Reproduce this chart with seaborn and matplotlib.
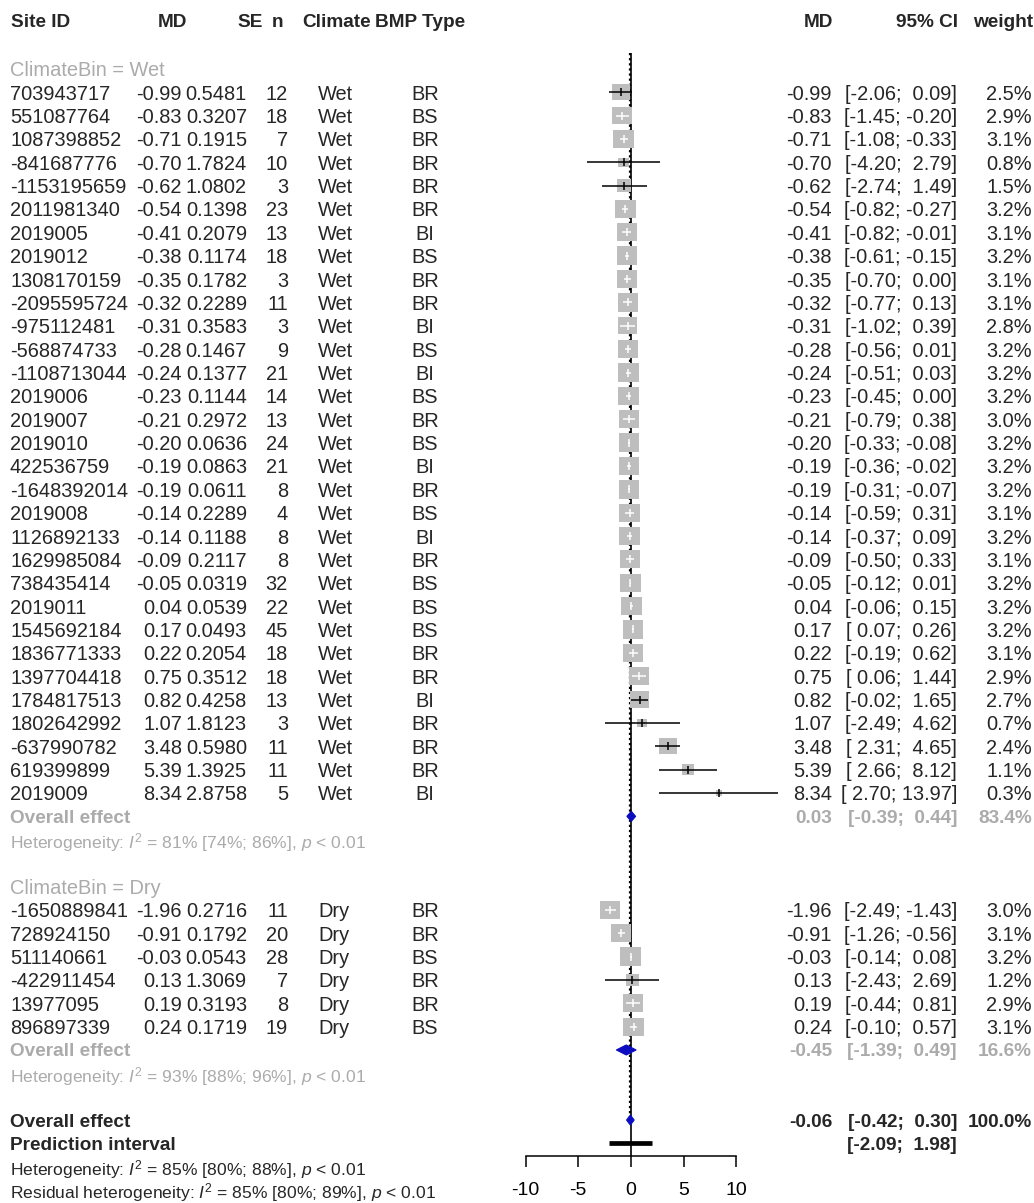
import matplotlib
matplotlib.use("Agg")
import matplotlib.pyplot as plt
import numpy as np
import pandas as pd
import seaborn as sns
from matplotlib.path import Path
from matplotlib.transforms import blended_transform_factory

# ---------------- study data ----------------
wet_site = ["703943717", "551087764", "1087398852", "-841687776", "-1153195659",
            "2011981340", "2019005", "2019012", "1308170159", "-2095595724",
            "-975112481", "-568874733", "-1108713044", "2019006", "2019007",
            "2019010", "422536759", "-1648392014", "2019008", "1126892133",
            "1629985084", "738435414", "2019011", "1545692184", "1836771333",
            "1397704418", "1784817513", "1802642992", "-637990782", "619399899",
            "2019009"]
wet_md = [-0.99, -0.83, -0.71, -0.70, -0.62, -0.54, -0.41, -0.38, -0.35, -0.32,
          -0.31, -0.28, -0.24, -0.23, -0.21, -0.20, -0.19, -0.19, -0.14, -0.14,
          -0.09, -0.05, 0.04, 0.17, 0.22, 0.75, 0.82, 1.07, 3.48, 5.39, 8.34]
wet_se = [0.5481, 0.3207, 0.1915, 1.7824, 1.0802, 0.1398, 0.2079, 0.1174, 0.1782,
          0.2289, 0.3583, 0.1467, 0.1377, 0.1144, 0.2972, 0.0636, 0.0863, 0.0611,
          0.2289, 0.1188, 0.2117, 0.0319, 0.0539, 0.0493, 0.2054, 0.3512, 0.4258,
          1.8123, 0.5980, 1.3925, 2.8758]
wet_n = [12, 18, 7, 10, 3, 23, 13, 18, 3, 11, 3, 9, 21, 14, 13, 24, 21, 8, 4, 8,
         8, 32, 22, 45, 18, 18, 13, 3, 11, 11, 5]
wet_bmp = ["BR", "BS", "BR", "BR", "BR", "BR", "BI", "BS", "BR", "BR", "BI", "BS",
           "BI", "BS", "BR", "BS", "BI", "BR", "BS", "BI", "BR", "BS", "BS", "BS",
           "BR", "BR", "BI", "BR", "BR", "BR", "BI"]
wet_lo = [-2.06, -1.45, -1.08, -4.20, -2.74, -0.82, -0.82, -0.61, -0.70, -0.77,
          -1.02, -0.56, -0.51, -0.45, -0.79, -0.33, -0.36, -0.31, -0.59, -0.37,
          -0.50, -0.12, -0.06, 0.07, -0.19, 0.06, -0.02, -2.49, 2.31, 2.66, 2.70]
wet_hi = [0.09, -0.20, -0.33, 2.79, 1.49, -0.27, -0.01, -0.15, 0.00, 0.13,
          0.39, 0.01, 0.03, 0.00, 0.38, -0.08, -0.02, -0.07, 0.31, 0.09,
          0.33, 0.01, 0.15, 0.26, 0.62, 1.44, 1.65, 4.62, 4.65, 8.12, 13.97]
wet_w = [2.5, 2.9, 3.1, 0.8, 1.5, 3.2, 3.1, 3.2, 3.1, 3.1, 2.8, 3.2, 3.2, 3.2, 3.0,
         3.2, 3.2, 3.2, 3.1, 3.2, 3.1, 3.2, 3.2, 3.2, 3.1, 2.9, 2.7, 0.7, 2.4, 1.1,
         0.3]

dry_site = ["-1650889841", "728924150", "511140661", "-422911454", "13977095",
            "896897339"]
dry_md = [-1.96, -0.91, -0.03, 0.13, 0.19, 0.24]
dry_se = [0.2716, 0.1792, 0.0543, 1.3069, 0.3193, 0.1719]
dry_n = [11, 20, 28, 7, 8, 19]
dry_bmp = ["BR", "BR", "BS", "BR", "BR", "BS"]
dry_lo = [-2.49, -1.26, -0.14, -2.43, -0.44, -0.10]
dry_hi = [-1.43, -0.56, 0.08, 2.69, 0.81, 0.57]
dry_w = [3.0, 3.1, 3.2, 1.2, 2.9, 3.1]

# subgroup and overall pooled estimates
sub_names = ["Wet", "Dry"]
sub_md = [0.03, -0.45]
sub_lo = [-0.39, -1.39]
sub_hi = [0.44, 0.49]
sub_w = [83.4, 16.6]
sub_het = [r"Heterogeneity: $I^2$ = 81% [74%; 86%], $p$ < 0.01",
           r"Heterogeneity: $I^2$ = 93% [88%; 96%], $p$ < 0.01"]

overall_md = -0.06
overall_lo = -0.42
overall_hi = 0.30
overall_w = 100.0
pred_lo = -2.09
pred_hi = 1.98
overall_het = r"Heterogeneity: $I^2$ = 85% [80%; 88%], $p$ < 0.01"
resid_het = r"Residual heterogeneity: $I^2$ = 85% [80%; 89%], $p$ < 0.01"

x_ticks = [-10, -5, 0, 5, 10]

# ---------------- layout ----------------
W, H = 1034, 1203
ROW0_PX, ROW_PX = 92.2, 23.36      # pixel position of first study row, row pitch
X0_PX, XPX = 631.0, 10.54          # pixel position of MD = 0, pixels per unit
BOX_W_MAX_PX = 20.5                # box width for the largest weight
BOX_ASPECT = 0.9                   # box height / width

GREY_TXT = "#ABABAB"
GREY_BOX = "#BEBEBE"
BLUE = "#0C0CC0"
FS = 14.4
FS_BOLD = 13.7
FS_HET = 12.6

wet_rows = list(range(0, len(wet_site)))
r_wet_label, r_wet_overall, r_wet_het = -1, 31, 32
r_dry_label = 34
dry_rows = list(range(35, 35 + len(dry_site)))
r_dry_overall, r_dry_het = 41, 42
r_overall, r_pred, r_het, r_resid = 44, 45, 46, 47
r_header = -3.09


def px_to_row(py):
    return (py - ROW0_PX) / ROW_PX


studies = pd.DataFrame({
    "site": wet_site + dry_site,
    "md": wet_md + dry_md,
    "se": wet_se + dry_se,
    "n": wet_n + dry_n,
    "climate": ["Wet"] * len(wet_site) + ["Dry"] * len(dry_site),
    "bmp": wet_bmp + dry_bmp,
    "lo": wet_lo + dry_lo,
    "hi": wet_hi + dry_hi,
    "weight": wet_w + dry_w,
    "row": wet_rows + dry_rows,
})
wmax = studies["weight"].max()
studies["box_w_px"] = BOX_W_MAX_PX * np.sqrt(studies["weight"] / wmax)
# CI drawn in white when it fits inside the box
studies["inside"] = (studies["hi"] - studies["lo"]) * XPX < studies["box_w_px"] * BOX_ASPECT

sns.set_style("white")
plt.rcParams["font.family"] = ["Liberation Sans", "DejaVu Sans"]
plt.rcParams["mathtext.fontset"] = "custom"
plt.rcParams["mathtext.rm"] = "Liberation Sans"
plt.rcParams["mathtext.it"] = "Liberation Sans:italic"
plt.rcParams["mathtext.bf"] = "Liberation Sans:bold"

fig = plt.figure(figsize=(W / 100, H / 100), dpi=100)
ax = fig.add_axes([0, 0, 1, 1])
ax.set_xlim(-X0_PX / XPX, (W - X0_PX) / XPX)
ax.set_ylim(px_to_row(H), px_to_row(0))
for s in ["top", "left", "right"]:
    ax.spines[s].set_visible(False)
ax.patch.set_alpha(0)

# reference line at zero and pooled-effect line
axis_row = px_to_row(1155.5)
top_row = px_to_row(53)
ax.vlines(0, top_row, axis_row, color="black", lw=1.2, zorder=1)
ax.vlines(overall_md, top_row, px_to_row(1124), color="black", lw=1.6,
          linestyles=(0, (1, 1.3)), zorder=1)

# study boxes, area proportional to weight
box = Path([(-1, -BOX_ASPECT), (1, -BOX_ASPECT), (1, BOX_ASPECT), (-1, BOX_ASPECT),
            (-1, -BOX_ASPECT)], closed=True)
sizes = {w: (BOX_W_MAX_PX * np.sqrt(w / wmax) * 0.72) ** 2
         for w in studies["weight"].unique()}
sns.scatterplot(data=studies, x="md", y="row", size="weight", sizes=sizes,
                marker=box, color=GREY_BOX, edgecolor="none", linewidth=0,
                legend=False, ax=ax, zorder=2)

# confidence intervals and estimate ticks
tick_h = 4.0 / ROW_PX
for _, r in studies.iterrows():
    c = "white" if r["inside"] else "black"
    ax.hlines(r["row"], r["lo"], r["hi"], color=c, lw=1.1, zorder=3)
    ax.vlines(r["md"], r["row"] - tick_h, r["row"] + tick_h, color=c, lw=1.1, zorder=3)

# pooled diamonds
dh = 5.0 / ROW_PX
for md, lo, hi, row in [(sub_md[0], sub_lo[0], sub_hi[0], r_wet_overall),
                        (sub_md[1], sub_lo[1], sub_hi[1], r_dry_overall),
                        (overall_md, overall_lo, overall_hi, r_overall)]:
    ax.fill([lo, md, hi, md], [row, row - dh, row, row + dh], color=BLUE,
            lw=0.8, edgecolor=BLUE, zorder=4)

# prediction interval
ax.hlines(r_pred, pred_lo, pred_hi, color="black", lw=3.4, zorder=4)

# x axis below the forest
ax.set_xlabel("")
ax.set_ylabel("")
ax.set_yticks([])
ax.spines["bottom"].set_position(("data", axis_row))
ax.spines["bottom"].set_bounds(x_ticks[0], x_ticks[-1])
ax.spines["bottom"].set_linewidth(1.1)
ax.spines["bottom"].set_color("black")
ax.set_xticks(x_ticks)
ax.set_xticklabels([str(t) for t in x_ticks])
ax.tick_params(axis="x", bottom=True, direction="out", length=8, width=1.1,
               labelsize=14, pad=11, colors="black")

# ---------------- text columns ----------------
tr = blended_transform_factory(fig.transFigure, ax.transData)


def put(xpx, row, s, ha="left", **kw):
    kw.setdefault("fontsize", FS)
    ax.text(xpx / W, row, s, transform=tr, ha=ha, va="center_baseline", **kw)


def put_bold(xpx, row, s, ha="left", **kw):
    put(xpx, row, s, ha=ha, fontweight="bold", fontsize=FS_BOLD, **kw)


def ci_str(lo, hi):
    return f"[{lo:5.2f}; {hi:5.2f}]"


# header
for xpx, s, ha in [(11, "Site ID", "left"), (187, "MD", "right"), (263, "SE", "right"),
                   (283, "n", "right"), (302, "Climate", "left"),
                   (375, "BMP Type", "left"), (833, "MD", "right"),
                   (958, "95% CI", "right"), (1033, "weight", "right")]:
    put_bold(xpx, r_header, s, ha=ha)

# subgroup labels
put(10, r_wet_label, "ClimateBin = Wet", color=GREY_TXT)
put(10, r_dry_label, "ClimateBin = Dry", color=GREY_TXT)

# study rows
for _, r in studies.iterrows():
    row = r["row"]
    put(10, row, r["site"])
    put(182, row, f"{r['md']:.2f}", ha="right")
    put(247, row, f"{r['se']:.4f}", ha="right")
    put(288, row, f"{r['n']}", ha="right")
    put(318, row, r["climate"])
    put(425, row, r["bmp"], ha="center")
    put(832, row, f"{r['md']:.2f}", ha="right")
    put(957, row, ci_str(r["lo"], r["hi"]), ha="right")
    put(1032, row, f"{r['weight']:.1f}%", ha="right")

# subgroup summaries
for i, (ro, rh) in enumerate([(r_wet_overall, r_wet_het), (r_dry_overall, r_dry_het)]):
    put_bold(10, ro, "Overall effect", color=GREY_TXT)
    put_bold(832, ro, f"{sub_md[i]:.2f}", ha="right", color=GREY_TXT)
    put_bold(957, ro, ci_str(sub_lo[i], sub_hi[i]), ha="right", color=GREY_TXT)
    put_bold(1032, ro, f"{sub_w[i]:.1f}%", ha="right", color=GREY_TXT)
    put(10, rh, sub_het[i], color=GREY_TXT, fontsize=FS_HET)

# overall summary
put_bold(10, r_overall, "Overall effect")
put_bold(832, r_overall, f"{overall_md:.2f}", ha="right")
put_bold(957, r_overall, ci_str(overall_lo, overall_hi), ha="right")
put_bold(1032, r_overall, f"{overall_w:.1f}%", ha="right")
put_bold(10, r_pred, "Prediction interval")
put_bold(957, r_pred, ci_str(pred_lo, pred_hi), ha="right")
put(10, r_het, overall_het, fontsize=FS_HET)
put(10, r_resid, resid_het, fontsize=FS_HET)

fig.savefig("out.png", dpi=100, facecolor="white")
